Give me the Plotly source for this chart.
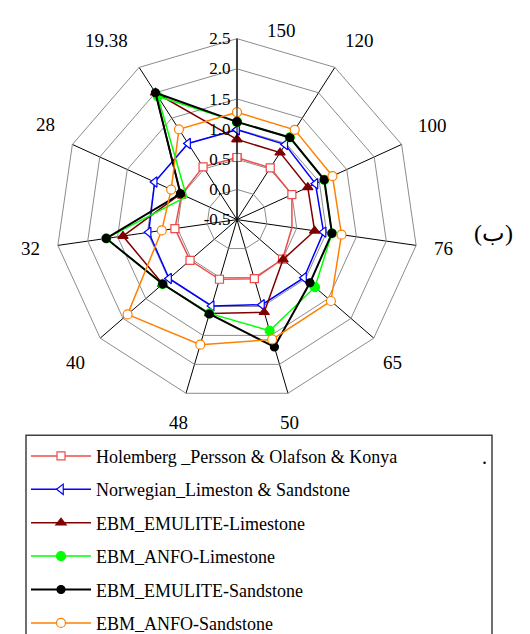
import plotly.graph_objects as go

categories = ["150", "120", "100", "76", "65", "50", "48", "40", "32", "28", "19.38"]
holemberg = [0.53, 0.52, 0.50, 0.42, 0.50, 0.52, 0.53, 0.53, 0.54, 0.51, 0.54]
norwegian = [0.99, 0.98, 0.93, 0.95, 0.97, 0.97, 0.99, 0.99, 0.98, 1.00, 1.00]
emulite_lime = [0.83, 0.82, 0.79, 0.80, 0.51, 1.10, 1.12, 1.13, 1.41, 0.53, 2.00]
anfo_lime = [1.12, 1.12, 1.09, 1.09, 1.21, 1.42, 1.12, 1.13, 1.69, 0.42, 1.93]
emulite_sand = [1.12, 1.12, 1.09, 1.09, 1.10, 1.70, 1.13, 1.13, 1.69, 0.53, 2.00]
anfo_sand = [1.28, 1.27, 1.24, 1.25, 1.56, 1.57, 1.66, 1.90, 0.76, 0.70, 1.28]
series_names = [
    "Holemberg _Persson & Olafson & Konya",
    "Norwegian_Limeston & Sandstone",
    "EBM_EMULITE-Limestone",
    "EBM_ANFO-Limestone",
    "EBM_EMULITE-Sandstone",
    "EBM_ANFO-Sandstone",
]
radial_ticks = [-0.5, 0.0, 0.5, 1.0, 1.5, 2.0, 2.5]

FONT = "Liberation Serif"
W, H = 530, 634

styles = [
    dict(color="#EE4B4B", symbol="square", fill="white", size=8, width=1.5),
    dict(color="#0000FF", symbol="triangle-left", fill="white", size=9, width=1.5),
    dict(color="#800000", symbol="triangle-up", fill="#800000", size=9, width=1.5),
    dict(color="#00FF00", symbol="circle", fill="#00FF00", size=9, width=1.5),
    dict(color="#000000", symbol="circle", fill="#000000", size=8, width=2),
    dict(color="#FF8000", symbol="circle", fill="white", size=9, width=1.5),
]
all_series = [holemberg, norwegian, emulite_lime, anfo_lime, emulite_sand, anfo_sand]

# pixel positions (layout only) of the category labels around the polygon, same order as categories
label_xy = [(273, 23), (351, 33), (424, 119), (435, 243), (384, 358), (281, 419),
            (170, 419), (67, 358), (22, 243), (37, 118), (98, 33)]

fig = go.Figure()
for i, (name, vals, st) in enumerate(zip(series_names, all_series, styles)):
    fig.add_trace(go.Scatterpolar(
        r=vals + [vals[0]],
        theta=categories + [categories[0]],
        name=name,
        mode="lines+markers",
        legendgroup=f"g{i}",
        line=dict(color=st["color"], width=st["width"]),
        marker=dict(symbol=st["symbol"], size=st["size"], color=st["fill"],
                    line=dict(color=st["color"], width=1.2)),
    ))

def px(x):
    return x / W

def py(y):
    return 1 - y / H

annotations = []
for cat, (lx, ly) in zip(categories, label_xy):
    annotations.append(dict(text=cat, x=px(lx), y=py(ly), xref="paper", yref="paper",
                            xanchor="center", yanchor="middle", showarrow=False,
                            font=dict(family=FONT, size=19, color="black")))
annotations += [
    dict(text="(ب)", x=px(485), y=py(228), xref="paper", yref="paper",
         xanchor="center", yanchor="middle",
         showarrow=False, font=dict(family=FONT, size=24, color="black")),
    dict(text=".", x=px(476), y=py(467), xref="paper", yref="paper",
         xanchor="center", yanchor="bottom",
         showarrow=False, font=dict(family=FONT, size=20, color="black")),
]

fig.update_layout(
    width=W, height=H, autosize=False,
    margin=dict(l=0, r=0, t=0, b=0),
    paper_bgcolor="white",
    font=dict(family=FONT, color="black"),
    polar=dict(
        domain=dict(x=[px(46), px(412)], y=[py(397), py(31)]),
        bgcolor="white",
        gridshape="linear",
        angularaxis=dict(
            type="category",
            categoryorder="array",
            categoryarray=categories,
            direction="clockwise",
            rotation=90,
            showline=True,
            linecolor="#8c8c8c",
            linewidth=1,
            gridcolor="black",
            gridwidth=1,
            ticks="",
            showticklabels=False,
        ),
        radialaxis=dict(
            range=[-0.5, 2.5],
            tickvals=radial_ticks,
            ticktext=[f"{v:.1f}" for v in radial_ticks],
            angle=90,
            tickangle=90,
            side="counterclockwise",
            showline=True,
            linecolor="black",
            linewidth=1,
            gridcolor="#8c8c8c",
            gridwidth=1,
            ticks="",
            layer="above traces",
            tickfont=dict(family=FONT, size=17, color="black"),
        ),
    ),
    showlegend=True,
    legend=dict(
        x=px(18), y=py(434.5), xanchor="left", yanchor="top",
        bgcolor="rgba(0,0,0,0)", borderwidth=0,
        font=dict(family=FONT, size=18, color="black"),
        tracegroupgap=7,
        itemwidth=60,
    ),
    shapes=[dict(type="rect", xref="paper", yref="paper",
                 x0=px(18), x1=px(484), y0=py(640), y1=py(432),
                 line=dict(color="#404040", width=1.5), fillcolor="rgba(0,0,0,0)",
                 layer="below")],
    annotations=annotations,
)

fig.write_html("out.html")
